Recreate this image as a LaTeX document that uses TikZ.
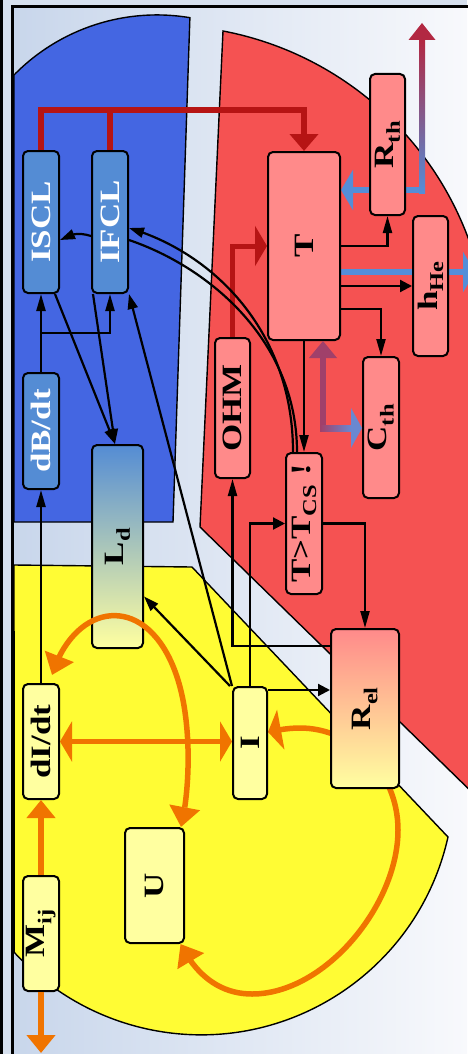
\documentclass[tikz,border=0pt]{standalone}
\usepackage{fontspec}
\setmainfont{Liberation Serif}
\usetikzlibrary{arrows.meta,bending,calc}
\pgfdeclarelayer{zones}
\pgfdeclarelayer{under}
\pgfsetlayers{zones,under,main}

\definecolor{frameblue}{RGB}{214,224,238}
\definecolor{bgleft}{RGB}{200,214,235}
\definecolor{bgright}{RGB}{248,249,252}
\definecolor{zoneblue}{RGB}{68,102,226}
\definecolor{zonered}{RGB}{245,82,82}
\definecolor{zoneyellow}{RGB}{255,252,52}
\definecolor{boxblue}{RGB}{84,140,212}
\definecolor{boxpink}{RGB}{255,138,138}
\definecolor{boxyellow}{RGB}{255,255,160}
\definecolor{busred}{RGB}{182,20,20}
\definecolor{heatblue}{RGB}{84,142,216}
\definecolor{heatred}{RGB}{178,40,66}
\definecolor{heatmix}{RGB}{160,64,106}
\definecolor{heatcool}{RGB}{106,136,208}
\definecolor{flow}{RGB}{240,116,0}

% label set sideways, squeezed across the box
\newcommand\sidelabel[1]{\rotatebox{90}{\scalebox{1}[0.8]{#1}}}

\begin{document}
\begin{tikzpicture}[x=1pt,y=1pt,
  box/.style={draw=black, line width=2pt, rounded corners=5pt, inner sep=0pt,
              font=\fontsize{35}{40}\selectfont\bfseries},
  bluebox/.style={box, fill=boxblue, text=white},
  pinkbox/.style={box, fill=boxpink},
  yellowbox/.style={box, fill=boxyellow},
  zone/.style={draw=black, line width=1.4pt},
  signal/.style={draw=black, line width=2.2pt},
  tov/.style={-{Triangle[length=17pt,width=9pt]}},
  toh/.style={-{Triangle[length=12pt,width=12pt]}},
  tod/.style={-{Triangle[length=15pt,width=10pt]}},
  busline/.style={draw=busred, line width=6pt, line join=miter},
  flowline/.style={draw=flow, line width=5.5pt},
]
\useasboundingbox (0,0) rectangle (467,-1054);
\clip (0,0) rectangle (467,-1054);

% ---------- zones ----------
\begin{pgfonlayer}{zones}
  \fill[frameblue] (0,0) rectangle (467,-1054);
  \fill[black] (0,0) rectangle (3,-1054);
  \shade[left color=bgleft, right color=bgright] (12,-6) rectangle (467,-1054);
  \draw[line width=3pt] (12.5,-1060) -- (12.5,-6.5) -- (470,-6.5);
  % superconducting zone
  \draw[zone, fill=zoneblue] (14,-522) -- (14,-75)
      arc[start angle=135.6, end angle=80.5, radius=200pt] -- (173,-522) -- cycle;
  % thermal zone
  \draw[zone, fill=zonered] (200,-527) -- (223,-31)
      arc[start angle=79.2, end angle=12, radius=327pt] -- (481,-801) -- cycle;
  % electrical zone
  \draw[zone, fill=zoneyellow] (14,-565) -- (192,-567) -- (448,-837)
      arc[start angle=-12.6, end angle=-137.6, radius=253pt] -- cycle;
\end{pgfonlayer}

% ---------- blocks ----------
\node[bluebox, minimum width=36pt, minimum height=142pt] (ISCL) at (41,-222) {\sidelabel{ISCL}};
\node[bluebox, minimum width=36pt, minimum height=142pt] (IFCL) at (110,-222) {\sidelabel{IFCL}};
\node[bluebox, minimum width=36pt, minimum height=116pt] (dBdt) at (41,-431) {\sidelabel{dB/dt}};
\node[box, top color=boxblue, bottom color=boxyellow, minimum width=51pt, minimum height=203pt]
     (Ld) at (117.5,-546.5) {\sidelabel{L\textsubscript{d}}};
\node[yellowbox, minimum width=36pt, minimum height=115pt] (dIdt) at (41,-741.5) {\sidelabel{dI/dt}};
\node[yellowbox, minimum width=36pt, minimum height=115pt] (Mij) at (41,-933.5) {\sidelabel{M\textsubscript{ij}}};
\node[yellowbox, minimum width=59pt, minimum height=115pt] (U) at (154.5,-885.5) {\sidelabel{U}};
\node[yellowbox, minimum width=34pt, minimum height=112pt] (I) at (250,-743) {\sidelabel{I}};
\node[box, top color=boxpink, bottom color=boxyellow, minimum width=68pt, minimum height=159pt]
     (Rel) at (365,-708.5) {\sidelabel{R\textsubscript{el}}};
\node[pinkbox, minimum width=36pt, minimum height=141pt] (TTcs) at (304,-523.5) {\sidelabel{T>T\textsubscript{CS} !}};
\node[pinkbox, minimum width=35pt, minimum height=140pt] (OHM) at (232.5,-408) {\sidelabel{OHM}};
\node[pinkbox, minimum width=36pt, minimum height=141pt] (Cth) at (381,-427.5) {\sidelabel{C\textsubscript{th}}};
\node[pinkbox, minimum width=72pt, minimum height=188pt] (T) at (304,-246) {\sidelabel{T}};
\node[pinkbox, minimum width=35pt, minimum height=141pt] (Rth) at (387.5,-144.5) {\sidelabel{R\textsubscript{th}}};
\node[pinkbox, minimum width=35pt, minimum height=140pt] (hHe) at (430.5,-286) {\sidelabel{h\textsubscript{He}}};

\coordinate (bus) at (0,-110);
\coordinate (rthturn) at (422,-190);
\coordinate (rthtop) at (422,-23);
\coordinate (heout) at (475,-272);
\coordinate (mout) at (41,-1053);

% ---------- heat paths behind the blocks ----------
\begin{pgfonlayer}{under}
  \draw[heatblue, line width=6pt, -{Triangle[length=12pt,width=40pt]}] (rthturn) -- (rthturn -| T.east);
  \shade[bottom color=heatblue, top color=heatred] ($(rthturn)+(-3,-3)$) rectangle ($(rthtop)+(3,-17)$);
  \fill[heatred] (rthtop) -- ++(-13.5,-17) -- ++(27,0) -- cycle;
  \draw[heatblue, line width=6pt, -{Triangle[length=12pt,width=40pt]}] ([yshift=-26pt]T.east) -- (heout);
  % loop from U back to I
  \draw[flowline, {Triangle[length=20pt,width=30pt]}-{Triangle[length=13pt,width=40pt]}]
    ([xshift=26pt]U.south) .. controls (196,-975) and (220,-994) .. (252,-994)
    .. controls (325,-994) and (398,-905) .. (398,-830)
    .. controls (398,-770) and (350,-728) .. (300,-728)
    .. controls (288,-728) and (278,-730) .. ([yshift=11pt]I.east);
\end{pgfonlayer}

% heat exchange between T and C_th
\coordinate (cthturn) at ($(T.south)+(19,-87)$);
\coordinate (cthend) at (cthturn -| Cth.west);
\fill[heatmix] ($(T.south)+(19,0)$) -- ++(-14,-17) -- ++(28,0) -- cycle;
\fill[heatmix] ($(T.south)+(16,-17)$) rectangle ($(cthturn)+(3,-3)$);
\shade[left color=heatmix, right color=heatcool] ($(cthturn)+(-3,3)$) rectangle ($(cthend)+(-11,-3)$);
\fill[heatcool] (cthend) -- ++(-11,20) -- ++(0,-40) -- cycle;

% ---------- power lines ----------
\draw[busline, -{Triangle[length=17pt,width=28pt]}] (ISCL.north) -- (ISCL.north |- bus) -| (T.north);
\draw[busline] (IFCL.north) -- (IFCL.north |- bus);
\draw[busline, line width=5pt, -{Triangle[length=12pt,width=40pt]}] (OHM.north) |- (T.west);

% ---------- signal arrows ----------
\draw[signal, tov] (dIdt.north) -- (dBdt.south);
\draw[signal, tov] (dBdt.north) -- (ISCL.south);
\coordinate (split) at ($(dBdt.north)!0.5!(ISCL.south)$);
\draw[signal, tov] (split) -| (IFCL.south);
\coordinate (ldin) at ([xshift=-2.5pt]Ld.north);
\draw[signal, tod] ([xshift=14pt]ISCL.south) -- (ldin);
\draw[signal, tod] ([xshift=-17pt]IFCL.south) -- (ldin);
\draw[signal, tod] (I.north west) -- (IFCL.south east);
\draw[signal, tod] ([xshift=-2pt]I.north west) -- ([yshift=-50pt]Ld.east);
\draw[signal, tod] ([yshift=-14pt]IFCL.west) to[bend right=25] ([yshift=-18pt]ISCL.east);
\draw[signal, tod] ([xshift=-11pt]TTcs.north) .. controls +(0,120) and +(85,-25) .. ([yshift=-6pt]IFCL.east);
\draw[signal] ([yshift=-18pt]IFCL.east) .. controls +(82,-28) and +(0,110) .. ([xshift=-7pt]TTcs.north);
\draw[signal, toh] (I.north) |- (TTcs.west);
\coordinate (iout) at ([yshift=-4pt]I.north east);
\draw[signal, toh] (iout) -- (iout -| Rel.west);
\draw[signal, tov] (TTcs.east) -| (Rel.north);
\draw[signal, tov] ([yshift=-18pt]Rel.north west) -| (OHM.south);
\draw[signal, tov] (T.east) -| (Rth.south);
\coordinate (tq) at ([yshift=-40pt]T.east);
\draw[signal, toh] (tq) -- (tq -| hHe.west);
\draw[signal, tov] ([yshift=-63pt]T.east) -| (Cth.north);
\draw[signal, tov] (T.south) -- (TTcs.north);

% ---------- electrical couplings ----------
\draw[flowline, -{Triangle[length=18pt,width=28pt]}] (Mij.north) -- (dIdt.south);
\draw[flowline, -{Triangle[length=18pt,width=28pt]}] (Mij.south) -- (mout);
\draw[flowline, {Triangle[length=12pt,width=40pt]}-{Triangle[length=12pt,width=40pt]}] (dIdt.east) -- (dIdt.east -| I.west);
\draw[flowline, {Triangle[length=20pt,width=30pt]}-{Triangle[length=20pt,width=30pt]}]
  ([xshift=11pt,yshift=8pt]dIdt.north) .. controls (75,-600) and (150,-590) .. (178,-680)
  .. controls (192,-725) and (190,-790) .. ([xshift=-4pt]U.north east);
\end{tikzpicture}
\end{document}
